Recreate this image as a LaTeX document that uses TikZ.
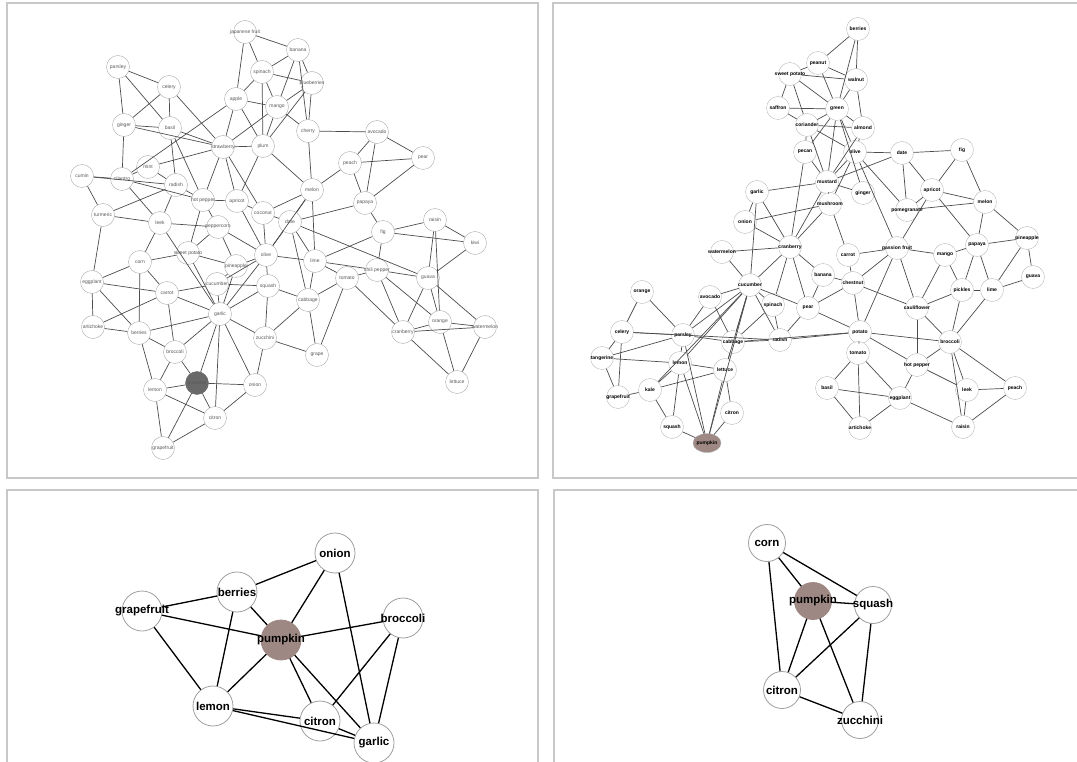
\documentclass[tikz,border=0pt]{standalone}
\usepackage{fontspec}
\setmainfont{Liberation Sans}
\usetikzlibrary{shapes.geometric}

\definecolor{panelgray}{RGB}{200,200,200}
\definecolor{pumpkinbrown}{RGB}{158,136,131}
\definecolor{pumpkingray}{RGB}{105,105,105}
\newcommand{\foodlabel}[1]{\makebox[0pt]{#1}}

\begin{document}
\begin{tikzpicture}[x=1pt, y=-1pt,
        panel/.style={draw=panelgray, line width=1.6pt},
        smallfood/.style={circle, draw=gray!65, fill=white, minimum size=23pt, inner sep=0pt, font=\fontsize{5}{6}\selectfont, text=black!65},
        boldfood/.style={smallfood, draw=gray!55, font=\bfseries\fontsize{5}{6}\selectfont, text=black},
        food/.style={circle, draw=gray!75, line width=0.8pt, fill=white, minimum size=40pt, inner sep=0pt, font=\bfseries\fontsize{11.5}{13}\selectfont},
        thinlink/.style={draw=black!70, line width=0.7pt},
        link/.style={draw=black, line width=1.3pt}
    ]
        \useasboundingbox (0,0) rectangle (1077,762);

        % Panels
        \draw[panel] (7,3) rectangle (538,478);
        \draw[panel] (553,3) rectangle (1095,478);
        \draw[panel] (7,490) rectangle (538,780);
        \draw[panel] (554,490) rectangle (1095,780);

        % Top left: whole network
        \foreach \n/\x/\y/\t in {1/245/32/japanese fruit, 2/298/50/banana, 3/118/67/parsley, 4/169/87/celery,
            5/262/72/spinach, 6/312/83/blueberries, 7/236/99/apple, 8/277/107/mango, 9/124/125/ginger,
            10/170/128/basil, 11/308/131/cherry, 12/223/147/strawberry, 13/263/146/plum, 14/377/132/avocado,
            15/350/163/peach, 16/423/158/pear, 17/82/176/cumin, 18/122/179/cilantro, 19/148/167/mint,
            20/176/185/radish, 21/203/200/hot pepper, 22/237/201/apricot, 23/312/190/melon, 24/365/203/papaya,
            25/103/215/turmeric, 26/160/223/leek, 27/218/227/peppercorn, 28/263/213/coconut, 29/290/222/date,
            30/188/253/sweet potato, 31/140/262/corn, 32/236/266/pineapple, 33/266/255/olive, 34/315/261/lime,
            35/347/278/tomato, 36/92/282/eggplant, 37/167/293/carrot, 38/217/284/cucumber, 39/268/286/squash,
            40/308/300/cabbage, 41/220/314/garlic, 42/93/327/artichoke, 43/139/333/berries, 44/265/338/zucchini,
            45/175/352/broccoli, 47/155/390/lemon, 48/255/385/onion, 49/215/418/citron,
            50/163/448/grapefruit, 51/383/232/fig, 52/435/220/raisin, 53/475/243/kiwi, 54/377/270/chili pepper,
            55/428/278/guava, 56/440/322/orange, 57/403/332/cranberry, 58/485/327/watermelon, 59/317/355/grape,
            60/457/382/lettuce}
            \node[smallfood] (tl\n) at (\x,\y) {\foodlabel{\t}};
        \node[smallfood, fill=pumpkingray, draw=pumpkingray] (tl46) at (197,383) {\foodlabel{pumpkin}};

        \foreach \u/\v in {1/2,1/5,1/7, 2/5,2/6,2/8,2/11, 3/4,3/9,3/10, 4/9,4/10,4/12, 5/6,5/7,5/8,5/13,
            6/8,6/11,6/13, 7/8,7/12,7/13,7/18, 8/11,8/12,8/13, 9/10,9/12,9/18, 10/12,10/20,10/21,
            11/14,11/23, 12/13,12/19,12/21,12/22,12/28, 13/22,13/23, 14/15,14/16,14/24, 15/16,15/23,15/24,
            16/24, 17/18,17/20,17/25, 18/19,18/21,18/26, 19/20, 20/21,20/25,20/26, 21/22,21/27,21/30,
            22/28,22/33, 23/28,23/29,23/33,23/34, 24/29,24/51, 25/26,25/36, 26/27,26/31,26/41,
            27/30,27/32,27/33, 28/29,28/33, 29/33,29/34,29/40,29/55, 30/31,30/32,30/41, 31/36,31/37,31/43,
            32/33,32/38,32/41, 33/34,33/38,33/39,33/41, 34/35,34/40,34/54, 35/40,35/54,35/57,35/59,
            36/37,36/42,36/43, 37/38,37/41,37/42,37/45, 38/39,38/41, 39/40,39/41,39/44, 40/44,40/59,
            41/43,41/44,41/45,41/46,41/48,41/49, 42/43, 43/45,43/47, 44/48,44/59, 45/46,45/47,
            46/47,46/48,46/49,46/50, 47/49,47/50, 48/49, 49/50, 51/52,51/53,51/54,51/34,
            52/53,52/55,52/56, 53/55, 54/55,54/56,54/57, 55/56,55/57,55/58, 56/57,56/58,56/60,
            57/58,57/60, 58/60}
            \draw[thinlink] (tl\u) -- (tl\v);

        % Top right: whole network
        \foreach \n/\x/\y/\t in {1/858/29/berries, 2/818/63/peanut, 3/790/74/sweet potato, 4/856/80/walnut,
            5/778/108/saffron, 6/837/109/green, 7/807/125/coriander, 8/863/128/almond, 9/805/152/pecan,
            10/855/152/olive, 11/902/153/date, 12/962/150/fig, 13/827/182/mustard, 14/863/193/ginger,
            15/757/192/garlic, 16/932/190/apricot, 17/830/204/mushroom, 18/907/210/pomegranate, 19/985/202/melon,
            20/745/222/onion, 21/790/247/cranberry, 22/722/252/watermelon, 23/848/255/carrot, 24/897/248/passion fruit,
            25/945/255/mango, 26/977/245/papaya, 27/1027/238/pineapple, 28/750/285/cucumber, 29/823/275/banana,
            30/853/283/chestnut, 31/1033/277/guava, 32/962/290/pickles, 33/992/290/lime, 34/642/292/orange,
            35/710/297/avocado, 36/773/305/spinach, 37/808/308/pear, 38/917/308/cauliflower, 39/622/332/celery,
            40/683/335/parsley, 41/733/342/cabbage, 42/780/340/radish, 43/860/332/potato, 44/950/342/broccoli,
            45/602/358/tangerine, 46/680/363/lemon, 47/725/370/lettuce, 48/858/353/tomato, 49/917/365/hot pepper,
            50/618/397/grapefruit, 51/650/390/kale, 52/827/388/basil, 53/900/398/eggplant, 54/967/390/leek,
            55/1015/388/peach, 56/732/413/citron, 57/672/427/squash, 59/860/428/artichoke, 60/963/427/raisin}
            \node[boldfood] (tr\n) at (\x,\y) {\foodlabel{\t}};
        \node[boldfood, ellipse, fill=pumpkinbrown, draw=gray!60, minimum width=28pt, minimum height=19pt] (tr58) at (707,443) {\foodlabel{pumpkin}};

        \foreach \u/\v in {1/2,1/4,1/6, 2/3,2/4,2/6, 3/4,3/5,3/6,3/7, 4/6,4/8, 5/6,5/7,
            6/7,6/8,6/9,6/10,6/13,6/14, 7/8,7/9,7/10,7/13, 8/10,8/13, 9/13,9/21,
            10/11,10/13,10/17,10/18,10/24, 11/12,11/13,11/16,11/18, 12/16,12/19,
            13/14,13/15,13/17,13/21, 15/20,15/21,15/28, 16/18,16/19,16/24,16/26, 17/20,17/21,17/23,
            18/19, 19/26,19/27, 20/21, 21/22,21/28,21/29,21/36,21/37, 22/28, 23/24,23/30,
            24/25,24/30,24/38,24/43, 25/26,25/32,25/38, 26/27,26/32,26/33, 27/31,27/33,
            28/35,28/36,28/37,28/40,28/41,28/42,28/46,28/47,28/51,28/58, 29/30,29/37,
            30/37,30/38,30/43, 31/33, 32/33,32/38,32/44, 33/44, 34/39,34/40, 35/40,35/41,
            36/41,36/42, 37/42,37/43, 38/44,38/49, 39/40,39/42,39/45,39/50, 40/41,40/45,40/46,40/58,
            41/42,41/43,41/47, 42/43, 43/44,43/48,43/49, 44/49,44/54,44/55,44/60, 45/46,45/50,
            46/47,46/51,46/57,46/58, 47/51,47/56,47/58, 48/52,48/53,48/59, 49/53,49/54, 50/51,
            51/57, 52/53,52/59, 53/59,53/60, 54/55,54/60, 55/60, 56/58, 57/58}
            \draw[thinlink] (tr\u) -- (tr\v);

        % Bottom left: pumpkin and its neighbours
        \node[food] (onion) at (335,553) {\foodlabel{onion}};
        \node[food] (berries) at (237,592) {\foodlabel{berries}};
        \node[food] (grapefruit) at (142,611) {\foodlabel{grapefruit}};
        \node[food, fill=pumpkinbrown, draw=pumpkinbrown] (pumpkin) at (281,640) {\foodlabel{pumpkin}};
        \node[food] (broccoli) at (403,618) {\foodlabel{broccoli}};
        \node[food] (lemon) at (213,706) {\foodlabel{lemon}};
        \node[food] (citron) at (320,721) {\foodlabel{citron}};
        \node[food] (garlic) at (374,743) {\foodlabel{garlic}};

        \foreach \u/\v in {berries/onion, grapefruit/berries, grapefruit/pumpkin, grapefruit/lemon,
            berries/pumpkin, berries/lemon, onion/pumpkin, onion/garlic, pumpkin/broccoli, pumpkin/lemon,
            pumpkin/citron, pumpkin/garlic, broccoli/citron, broccoli/garlic, lemon/citron, lemon/garlic, citron/garlic}
            \draw[link] (\u) -- (\v);

        % Bottom right: pumpkin, second network
        \node[food, minimum size=37pt] (corn) at (767,543) {\foodlabel{corn}};
        \node[food, minimum size=37pt, fill=pumpkinbrown, draw=pumpkinbrown] (pumpkinB) at (813,601) {\foodlabel{pumpkin}};
        \node[food, minimum size=37pt] (squash) at (873,605) {\foodlabel{squash}};
        \node[food, minimum size=37pt] (citronB) at (782,690) {\foodlabel{citron}};
        \node[food, minimum size=37pt] (zucchini) at (860,720) {\foodlabel{zucchini}};

        \foreach \u/\v in {corn/pumpkinB, corn/squash, corn/citronB, pumpkinB/squash, pumpkinB/citronB,
            pumpkinB/zucchini, squash/citronB, squash/zucchini, citronB/zucchini}
            \draw[link] (\u) -- (\v);
    \end{tikzpicture}
\end{document}
